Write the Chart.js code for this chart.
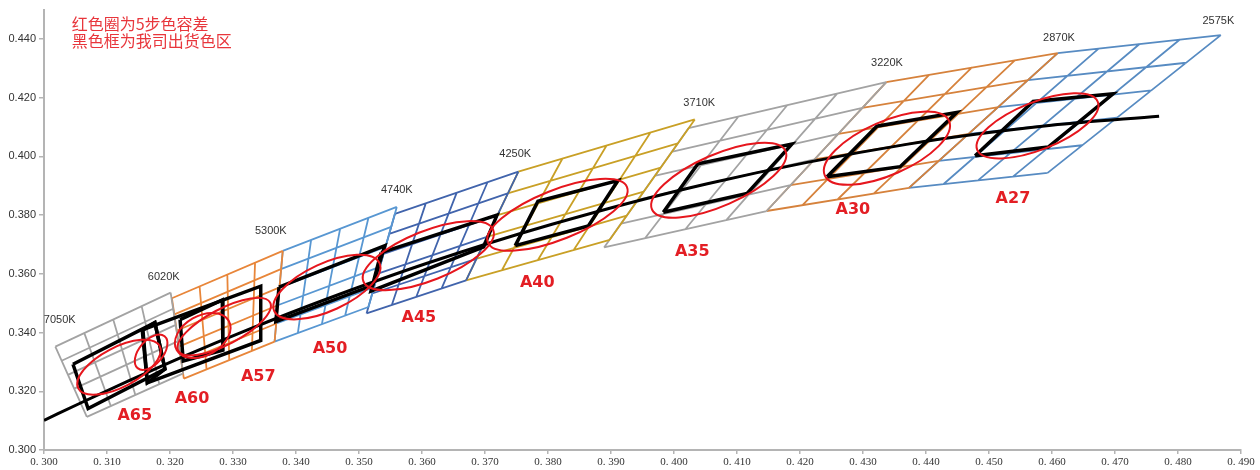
<!DOCTYPE html>
<html>
<head>
<meta charset="utf-8">
<script src="https://cdn.jsdelivr.net/npm/chart.js@4.4.0/dist/chart.umd.min.js"></script>
<style>
  html, body { margin: 0; padding: 0; background: #fff; }
  #wrap { width: 1260px; height: 470px; }
</style>
</head>
<body>
<div id="wrap"><canvas id="chart-cie" width="1260" height="470"></canvas></div>
<script>
// axis ticks
const xTicks = [0.30, 0.31, 0.32, 0.33, 0.34, 0.35, 0.36, 0.37, 0.38, 0.39, 0.40, 0.41, 0.42, 0.43, 0.44, 0.45, 0.46, 0.47, 0.48, 0.49]
const yTicks = [0.30, 0.32, 0.34, 0.36, 0.38, 0.40, 0.42, 0.44]

// grid lines of each CCT quadrangle: [x1, y1, x2, y2]
const q6500 = [
  [0.3018, 0.3352, 0.3068, 0.3113], [0.3064, 0.3398, 0.3106, 0.3150], [0.3110, 0.3444, 0.3145, 0.3187],
  [0.3155, 0.3490, 0.3183, 0.3224], [0.3201, 0.3536, 0.3221, 0.3261],
  [0.3068, 0.3113, 0.3221, 0.3261], [0.3058, 0.3161, 0.3217, 0.3316], [0.3048, 0.3209, 0.3213, 0.3371],
  [0.3038, 0.3256, 0.3209, 0.3426], [0.3028, 0.3304, 0.3205, 0.3481], [0.3018, 0.3352, 0.3201, 0.3536]
]
const q5700 = [
  [0.3203, 0.3517, 0.3222, 0.3243], [0.3247, 0.3557, 0.3258, 0.3275], [0.3291, 0.3598, 0.3294, 0.3306],
  [0.3335, 0.3638, 0.3330, 0.3338], [0.3379, 0.3678, 0.3366, 0.3369],
  [0.3222, 0.3243, 0.3366, 0.3369], [0.3218, 0.3298, 0.3369, 0.3431], [0.3215, 0.3353, 0.3371, 0.3493],
  [0.3211, 0.3407, 0.3374, 0.3554], [0.3207, 0.3462, 0.3376, 0.3616], [0.3203, 0.3517, 0.3379, 0.3678]
]
const q5000 = [
  [0.3379, 0.3678, 0.3366, 0.3369], [0.3424, 0.3716, 0.3403, 0.3399], [0.3470, 0.3753, 0.3441, 0.3428],
  [0.3515, 0.3791, 0.3478, 0.3458], [0.3560, 0.3828, 0.3515, 0.3487],
  [0.3366, 0.3369, 0.3515, 0.3487], [0.3369, 0.3431, 0.3524, 0.3555], [0.3371, 0.3493, 0.3533, 0.3624],
  [0.3374, 0.3554, 0.3542, 0.3692], [0.3376, 0.3616, 0.3551, 0.3760], [0.3379, 0.3678, 0.3560, 0.3828]
]
const q4500 = [
  [0.3557, 0.3804, 0.3512, 0.3465], [0.3606, 0.3840, 0.3552, 0.3493], [0.3655, 0.3876, 0.3591, 0.3522],
  [0.3704, 0.3912, 0.3631, 0.3550], [0.3753, 0.3948, 0.3670, 0.3578],
  [0.3512, 0.3465, 0.3670, 0.3578], [0.3521, 0.3533, 0.3687, 0.3652], [0.3530, 0.3601, 0.3703, 0.3726],
  [0.3539, 0.3668, 0.3720, 0.3800], [0.3548, 0.3736, 0.3736, 0.3874], [0.3557, 0.3804, 0.3753, 0.3948]
]
const q4000 = [
  [0.3753, 0.3948, 0.3670, 0.3578], [0.3823, 0.3993, 0.3727, 0.3613], [0.3893, 0.4037, 0.3784, 0.3647],
  [0.3963, 0.4082, 0.3841, 0.3682], [0.4033, 0.4126, 0.3898, 0.3716],
  [0.3670, 0.3578, 0.3898, 0.3716], [0.3687, 0.3652, 0.3925, 0.3798], [0.3703, 0.3726, 0.3952, 0.3880],
  [0.3720, 0.3800, 0.3979, 0.3962], [0.3736, 0.3874, 0.4006, 0.4044], [0.3753, 0.3948, 0.4033, 0.4126]
]
const q3500 = [
  [0.4023, 0.4096, 0.3889, 0.3690], [0.4102, 0.4135, 0.3954, 0.3721], [0.4180, 0.4175, 0.4018, 0.3752],
  [0.4259, 0.4214, 0.4083, 0.3783], [0.4337, 0.4253, 0.4147, 0.3814],
  [0.3889, 0.3690, 0.4147, 0.3814], [0.3916, 0.3771, 0.4185, 0.3902], [0.3943, 0.3853, 0.4223, 0.3990],
  [0.3969, 0.3934, 0.4261, 0.4077], [0.3996, 0.4015, 0.4299, 0.4165], [0.4023, 0.4096, 0.4337, 0.4253]
]
const q3000 = [
  [0.4337, 0.4253, 0.4147, 0.3814], [0.4405, 0.4278, 0.4204, 0.3834], [0.4473, 0.4303, 0.4260, 0.3854],
  [0.4541, 0.4327, 0.4317, 0.3873], [0.4609, 0.4352, 0.4373, 0.3893],
  [0.4147, 0.3814, 0.4373, 0.3893], [0.4185, 0.3902, 0.4420, 0.3985], [0.4223, 0.3990, 0.4468, 0.4077],
  [0.4261, 0.4077, 0.4515, 0.4168], [0.4299, 0.4165, 0.4562, 0.4260], [0.4337, 0.4253, 0.4609, 0.4352]
]
const q2700 = [
  [0.4609, 0.4352, 0.4373, 0.3893], [0.4674, 0.4367, 0.4428, 0.3906], [0.4739, 0.4383, 0.4483, 0.3919],
  [0.4803, 0.4398, 0.4538, 0.3931], [0.4868, 0.4413, 0.4593, 0.3944],
  [0.4373, 0.3893, 0.4593, 0.3944], [0.4420, 0.3985, 0.4648, 0.4038], [0.4468, 0.4077, 0.4703, 0.4132],
  [0.4515, 0.4168, 0.4758, 0.4225], [0.4562, 0.4260, 0.4813, 0.4319], [0.4609, 0.4352, 0.4868, 0.4413]
]

// black locus
const planckX = [0.3000, 0.3064, 0.3135, 0.3221, 0.3324, 0.3451, 0.3608, 0.3805, 0.4053, 0.4369, 0.4599, 0.4770]
const planckY = [0.3101, 0.3166, 0.3236, 0.3318, 0.3410, 0.3516, 0.3636, 0.3768, 0.3907, 0.4041, 0.4106, 0.4137]

// shipping bins (black boxes), corners [x, y]
const boxA65 = [[0.3046, 0.3292], [0.3176, 0.3434], [0.3192, 0.3276], [0.3070, 0.3141]]
const boxA60a = [[0.3156, 0.3407], [0.3176, 0.3434], [0.3192, 0.3276], [0.3164, 0.3229]]
const boxA60 = [[0.3216, 0.3444], [0.3283, 0.3511], [0.3284, 0.3340], [0.3221, 0.3303]]
const boxA57 = [[0.3157, 0.3410], [0.3344, 0.3558], [0.3344, 0.3373], [0.3164, 0.3229]]
const boxA50 = [[0.3373, 0.3555], [0.3541, 0.3696], [0.3522, 0.3561], [0.3368, 0.3437]]
const boxA45 = [[0.3535, 0.3672], [0.3719, 0.3800], [0.3698, 0.3692], [0.3519, 0.3541]]
const boxA40 = [[0.3748, 0.3696], [0.3784, 0.3847], [0.3911, 0.3918], [0.3864, 0.3763]]
const boxA35 = [[0.3983, 0.3810], [0.4038, 0.3975], [0.4187, 0.4042], [0.4116, 0.3874]]
const boxA30 = [[0.4243, 0.3931], [0.4322, 0.4103], [0.4449, 0.4150], [0.4359, 0.3965]]
const boxA27 = [[0.4478, 0.4002], [0.4570, 0.4187], [0.4697, 0.4213], [0.4594, 0.4032]]

// 5-step ellipses: [cx, cy, ux, uy, vx, vy]
const macAdam5 = [
  [0.3119, 0.3282, 0.00645, 0.00726, 0.00149, -0.00594],
  [0.3170, 0.3333, 0.00214, 0.00541, 0.00146, -0.00259],
  [0.3252, 0.3390, 0.00412, 0.00504, 0.00159, -0.00582],
  [0.3286, 0.3420, 0.00729, 0.00821, 0.00134, -0.00534],
  [0.3449, 0.3555, 0.00834, 0.00824, 0.00161, -0.00731],
  [0.3610, 0.3662, 0.01030, 0.00881, 0.00149, -0.00779],
  [0.3815, 0.3801, 0.01104, 0.00944, 0.00149, -0.00779],
  [0.4071, 0.3919, 0.01059, 0.00998, 0.00168, -0.00798],
  [0.4338, 0.4028, 0.00986, 0.00930, 0.00174, -0.00829],
  [0.4577, 0.4104, 0.00957, 0.00818, 0.00143, -0.00748]
]

const cctNames = ['7050K', '6020K', '5300K', '4740K', '4250K', '3710K', '3220K', '2870K', '2575K']
const cctX = [0.3025, 0.3190, 0.3360, 0.3560, 0.3748, 0.4040, 0.4338, 0.4611, 0.4864]
const cctY = [0.3444, 0.3588, 0.3746, 0.3884, 0.4008, 0.4183, 0.4318, 0.4405, 0.4462]

const binNames = ['A65', 'A60', 'A57', 'A50', 'A45', 'A40', 'A35', 'A30', 'A27']
const binX = [0.3144, 0.3235, 0.3340, 0.3454, 0.3595, 0.3783, 0.4029, 0.4284, 0.4538]
const binY = [0.3118, 0.3175, 0.3249, 0.3343, 0.3450, 0.3568, 0.3676, 0.3817, 0.3857]

const noteLines = ['红色圈为5步色容差', '黑色框为我司出货色区']

function segData(segs) {
    let out = []
    segs.forEach(s => {
        out.push({x: s[0], y: s[1]}, {x: s[2], y: s[3]}, {x: null, y: null})
    })
    return out
}

function boxData(pts) {
    let out = pts.map(p => ({x: p[0], y: p[1]}))
    out.push({x: pts[0][0], y: pts[0][1]})
    return out
}

let gridSets = [
    [q6500, '#a3a3a3'], [q5700, '#e8863a'], [q5000, '#5897d2'], [q4500, '#4164ac'],
    [q4000, '#c9a026'], [q3500, '#a3a3a3'], [q3000, '#d6823c'], [q2700, '#578bc2']
]

let datasets = []
gridSets.forEach(g => {
    datasets.push({
        data: segData(g[0]),
        borderColor: g[1],
        borderWidth: 1.8,
        showLine: true,
        pointRadius: 0,
        order: 10
    })
})

datasets.push({
    data: planckX.map((v, i) => ({x: v, y: planckY[i]})),
    borderColor: '#000',
    borderWidth: 3,
    showLine: true,
    pointRadius: 0,
    cubicInterpolationMode: 'monotone',
    order: 5
})

;[boxA65, boxA60a, boxA60, boxA57, boxA50, boxA45, boxA40, boxA35, boxA30, boxA27].forEach(b => {
    datasets.push({
        data: boxData(b),
        borderColor: '#000',
        borderWidth: 3.5,
        borderJoinStyle: 'miter',
        showLine: true,
        pointRadius: 0,
        order: 1
    })
})

const overlay = {
    id: 'overlay',
    afterDatasetsDraw(chart) {
        const ctx = chart.ctx
        const xs = chart.scales.x, ys = chart.scales.y
        ctx.save()
        ctx.strokeStyle = '#e6161d'
        ctx.lineWidth = 2
        macAdam5.forEach(e => {
            let cx = xs.getPixelForValue(e[0]), cy = ys.getPixelForValue(e[1])
            let ux = xs.getPixelForValue(e[0] + e[2]) - cx, uy = ys.getPixelForValue(e[1] + e[3]) - cy
            let vx = xs.getPixelForValue(e[0] + e[4]) - cx, vy = ys.getPixelForValue(e[1] + e[5]) - cy
            ctx.save()
            ctx.beginPath()
            ctx.transform(ux, uy, vx, vy, cx, cy)
            ctx.arc(0, 0, 1, 0, Math.PI * 2)
            ctx.restore()
            ctx.stroke()
        })

        ctx.textAlign = 'center'
        ctx.textBaseline = 'middle'
        ctx.fillStyle = '#333'
        ctx.font = '11px "Liberation Sans", Arial, sans-serif'
        cctNames.forEach((t, i) => {
            ctx.fillText(t, xs.getPixelForValue(cctX[i]), ys.getPixelForValue(cctY[i]))
        })

        ctx.fillStyle = '#e31e24'
        ctx.font = 'bold 16px "DejaVu Sans", sans-serif'
        binNames.forEach((t, i) => {
            ctx.fillText(t, xs.getPixelForValue(binX[i]), ys.getPixelForValue(binY[i]))
        })

        ctx.textAlign = 'left'
        ctx.fillStyle = '#e8363c'
        ctx.font = '16px "Noto Sans CJK SC", sans-serif'
        ctx.fillText(noteLines[0], xs.getPixelForValue(0.3044), ys.getPixelForValue(0.4451))
        ctx.fillText(noteLines[1], xs.getPixelForValue(0.3044), ys.getPixelForValue(0.4395))
        ctx.restore()
    }
}

let cieChart = new Chart(
    document.getElementById('chart-cie').getContext('2d'),
    {
        type: 'scatter',
        data: { datasets: datasets },
        options: {
            responsive: false,
            animation: false,
            layout: { padding: { top: 4, right: 19, left: 0, bottom: 0 } },
            plugins: {
                legend: { display: false },
                tooltip: { enabled: false }
            },
            scales: {
                x: {
                    type: 'linear',
                    min: 0.3,
                    max: 0.49,
                    afterFit: s => { s.height = 20 },
                    afterBuildTicks: s => { s.ticks = xTicks.map(v => ({value: v})) },
                    grid: { drawOnChartArea: false, tickLength: 4, color: '#b4b4b4', lineWidth: 1.5 },
                    border: { color: '#b4b4b4', width: 2 },
                    ticks: {
                        autoSkip: false,
                        maxRotation: 0,
                        padding: 2,
                        color: '#333',
                        font: { family: '"Liberation Serif", serif', size: 11 },
                        callback: v => v.toFixed(3).replace('.', '. ')
                    }
                },
                y: {
                    type: 'linear',
                    min: 0.3,
                    max: 0.45,
                    afterFit: s => { s.width = 44 },
                    afterBuildTicks: s => { s.ticks = yTicks.map(v => ({value: v})) },
                    grid: { drawOnChartArea: false, tickLength: 5, color: '#b4b4b4', lineWidth: 1.5 },
                    border: { color: '#b4b4b4', width: 2 },
                    ticks: {
                        padding: 3,
                        color: '#333',
                        font: { family: '"Liberation Sans", Arial, sans-serif', size: 11 },
                        callback: v => v.toFixed(3)
                    }
                }
            }
        },
        plugins: [overlay]
    }
)
</script>
</body>
</html>
